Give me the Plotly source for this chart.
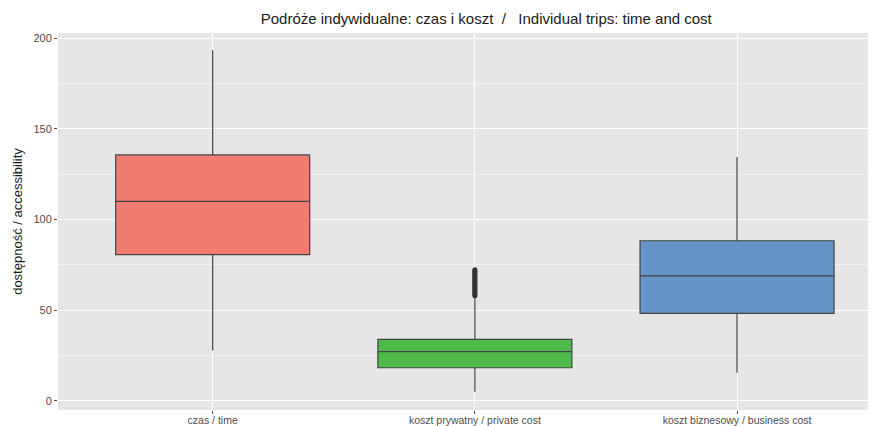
import plotly.graph_objects as go

#%% dane
kategorie = ["czas / time", "koszt prywatny / private cost", "koszt biznesowy / business cost"]
q1 = [80.6, 18.3, 48.3]
mediana = [110.0, 27.2, 68.9]
q3 = [135.6, 33.9, 88.3]
dolny_was = [27.8, 5.0, 15.6]
gorny_was = [193.3, 57.3, 134.4]
kolory = ["#F07C72", "#4DBA4A", "#6594C9"]

# wartosci odstajace - koszt prywatny
odstajace = [58.0, 58.8, 59.5, 60.3, 61.0, 61.8, 62.5, 63.3, 64.0, 64.8, 65.5,
             66.3, 67.0, 67.8, 68.5, 69.3, 70.0, 70.8, 71.5, 72.3]

#%% wykres
fig = go.Figure()

for i, kat in enumerate(kategorie):
    fig.add_trace(go.Box(x=[kat], q1=[q1[i]], median=[mediana[i]], q3=[q3[i]],
                         lowerfence=[dolny_was[i]], upperfence=[gorny_was[i]],
                         fillcolor=kolory[i], line_color="#444444", line_width=1.2,
                         whiskerwidth=0, width=0.74, boxpoints=False,
                         showlegend=False, hoverinfo="skip"))

fig.add_trace(go.Scatter(x=[kategorie[1]] * len(odstajace), y=odstajace, mode="markers",
                         marker=dict(size=5, color="#333333"), showlegend=False))

# strona ma 8px marginesu body -> figura mniejsza o 8px
fig.update_layout(width=868, height=418, margin=dict(l=50, r=0, t=25, b=13),
                  paper_bgcolor="white", plot_bgcolor="#E6E6E6",
                  font=dict(family="Liberation Sans, Arial", color="#4D4D4D"),
                  title=dict(text="Podróże indywidualne: czas i koszt  /   Individual trips: time and cost",
                             x=0.551, xref="container", xanchor="center", y=0.974, yanchor="middle",
                             font=dict(size=15, color="#1a1a1a")))

fig.update_xaxes(type="category", range=[-0.59, 2.53], showgrid=True, gridcolor="white", gridwidth=1.3,
                 ticks="outside", ticklen=3, tickcolor="#4D4D4D", tickfont=dict(size=10.5),
                 ticklabelstandoff=-3, zeroline=False, showline=False)

fig.update_yaxes(range=[-5, 202.8], tickvals=[0, 50, 100, 150, 200], showgrid=True,
                 gridcolor="white", gridwidth=1.3, zeroline=False, showline=False,
                 minor=dict(tickvals=[25, 75, 125, 175], showgrid=True, gridcolor="#F2F2F2", gridwidth=0.7),
                 ticks="outside", ticklen=3, tickcolor="#4D4D4D", tickfont=dict(size=11),
                 title=dict(text="dostępność / accessibility", font=dict(size=13, color="#1a1a1a"), standoff=7))

fig.write_html("out.html")
